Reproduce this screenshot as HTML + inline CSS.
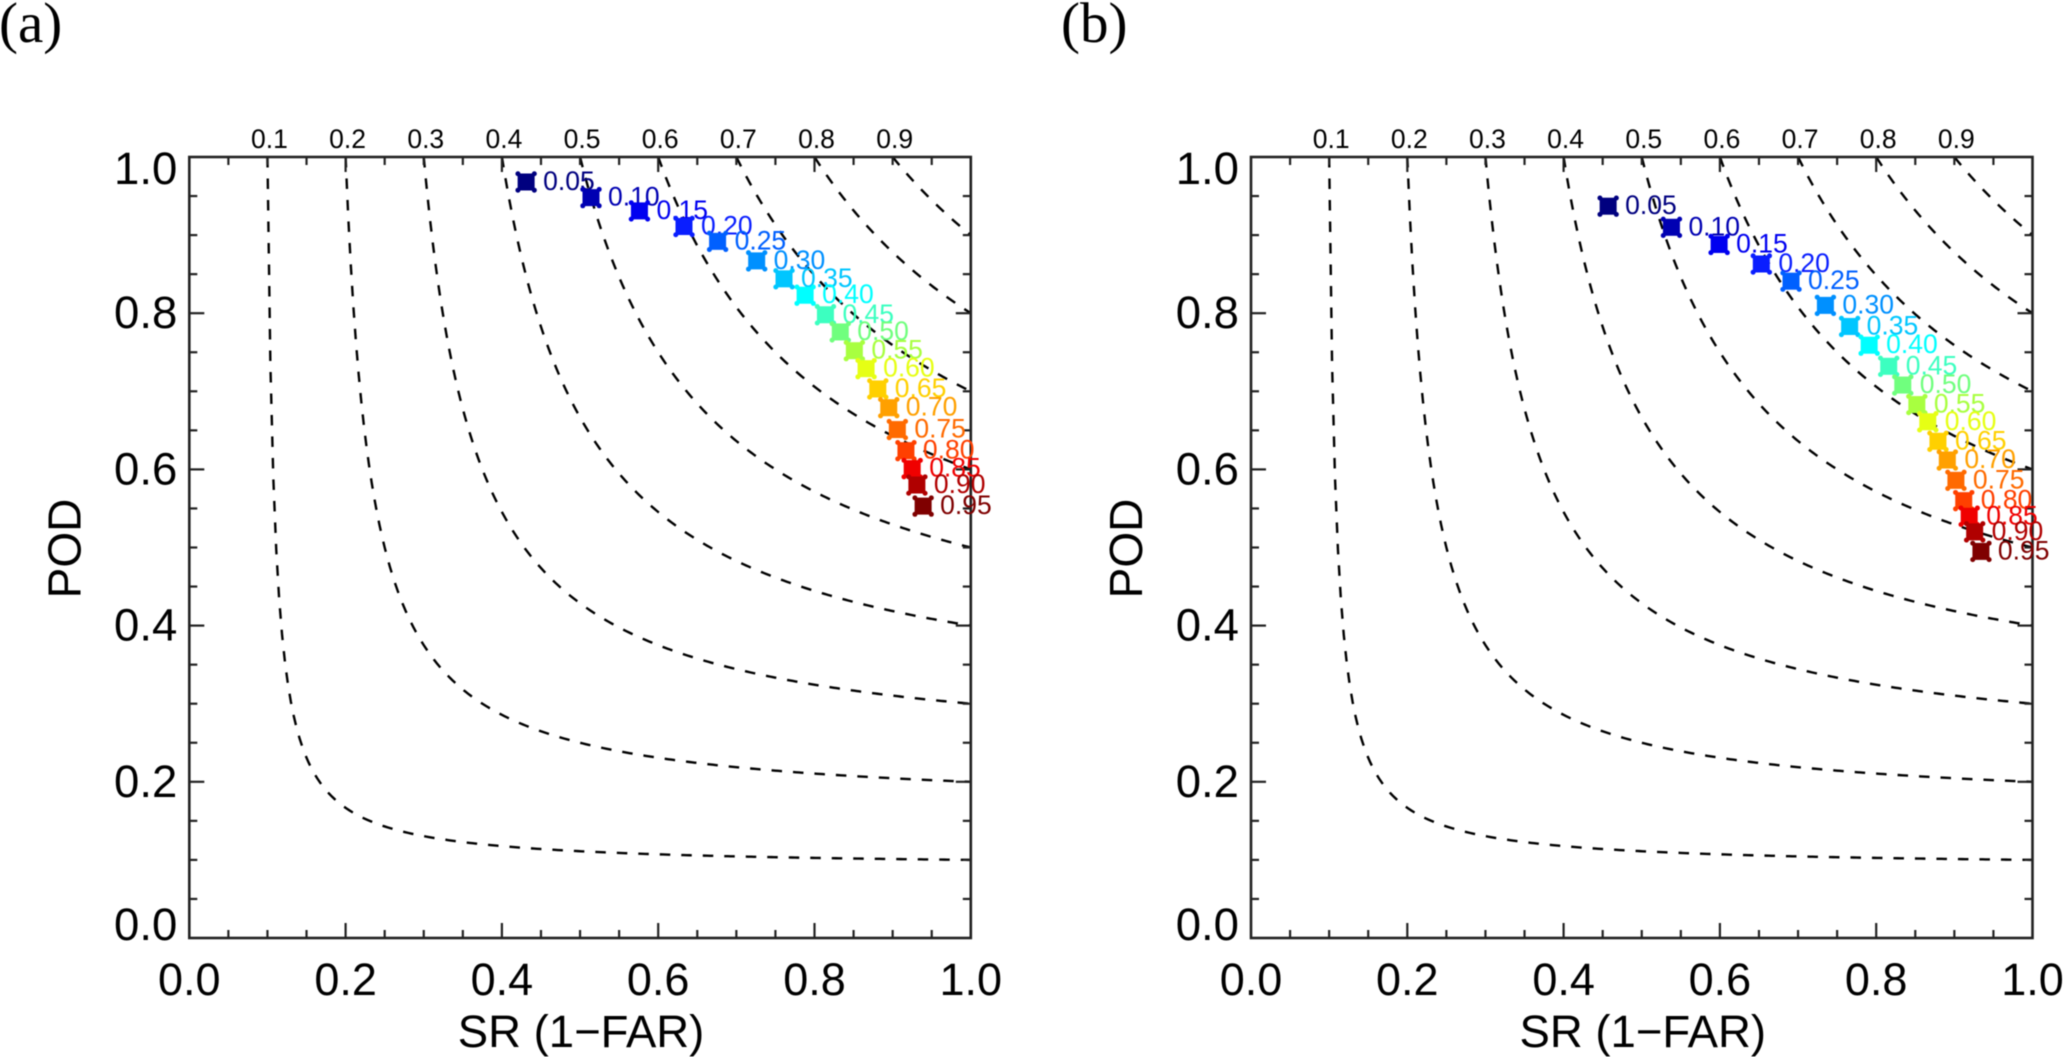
<!DOCTYPE html>
<html lang="en">
<head>
<meta charset="utf-8">
<title>Performance diagrams</title>
<style>
html,body{margin:0;padding:0;background:#fff;width:2067px;height:1057px;overflow:hidden}
svg{display:block;filter:blur(0.6px)}
text{font-family:"Liberation Sans",sans-serif;fill:#000}
.panel-letter{font-family:"Liberation Serif",serif;font-size:57px}
</style>
</head>
<body>
<svg id="chart" xmlns="http://www.w3.org/2000/svg" width="2067" height="1057" viewBox="0 0 2067 1057">
  <rect x="0" y="0" width="2067" height="1057" fill="#fff"/>
  <text class="panel-letter" x="-1" y="42">(a)</text>
  <text class="panel-letter" x="1061" y="42">(b)</text>
  <g id="panel-a"></g>
  <g id="panel-b"></g>
</svg>
<script>
const thresholds = ["0.05","0.10","0.15","0.20","0.25","0.30","0.35","0.40","0.45","0.50","0.55","0.60","0.65","0.70","0.75","0.80","0.85","0.90","0.95"];
const panelASR = [0.431,0.514,0.576,0.633,0.676,0.726,0.761,0.788,0.814,0.833,0.851,0.866,0.881,0.895,0.906,0.917,0.925,0.931,0.939];
const panelAPOD = [0.968,0.948,0.931,0.911,0.892,0.867,0.844,0.823,0.798,0.776,0.752,0.729,0.703,0.679,0.651,0.624,0.601,0.580,0.553];
const panelBSR = [0.457,0.538,0.599,0.653,0.691,0.735,0.766,0.791,0.816,0.834,0.852,0.866,0.879,0.891,0.902,0.912,0.919,0.926,0.934];
const panelBPOD = [0.937,0.910,0.888,0.863,0.841,0.810,0.783,0.759,0.732,0.708,0.683,0.661,0.636,0.612,0.586,0.560,0.540,0.520,0.495];
const csiLevels = [0.1,0.2,0.3,0.4,0.5,0.6,0.7,0.8,0.9];
const majorTicks = [0,0.2,0.4,0.6,0.8,1];
const minorTicks = [0.05,0.1,0.15,0.25,0.3,0.35,0.45,0.5,0.55,0.65,0.7,0.75,0.85,0.9,0.95];
const markerColors = ["#00007f","#0000b2","#0000f0","#0a1eff","#0060ff","#0090ff","#00c6ff","#00ffff","#3cffc0","#70ff7e","#a8ff40","#e6ff14","#ffd000","#ffa000","#ff6a00","#ff4000","#f00000","#b00000","#7f0000"];

const NS = "http://www.w3.org/2000/svg";
const plotTop = 157, plotBottom = 938, plotWidth = 781.5;

function make(parent, tag, attrs, text) {
  const el = document.createElementNS(NS, tag);
  for (const k in attrs) el.setAttribute(k, attrs[k]);
  if (text !== undefined) el.textContent = text;
  parent.appendChild(el);
  return el;
}

function drawPanel(root, id, plotLeft, srValues, podValues) {
  const xScale = v => plotLeft + v * plotWidth;
  const yScale = v => plotBottom - v * (plotBottom - plotTop);
  const plotRight = xScale(1);

  const clip = make(root, "clipPath", {id: id + "-clip"});
  make(clip, "rect", {x: plotLeft, y: plotTop, width: plotWidth, height: plotBottom - plotTop});

  // CSI isolines: each level defines POD as a function of SR
  csiLevels.forEach(level => {
    let d = "";
    for (let i = 0; i <= 240; i++) {
      const sr = level + (1 - level) * i / 240;
      const pod = 1 / (1 / level + 1 - 1 / sr);
      d += (i ? "L" : "M") + xScale(sr).toFixed(2) + " " + yScale(pod).toFixed(2);
    }
    const curve = make(root, "path", {d: d, fill: "none", stroke: "#000", "stroke-width": 2.4, "stroke-dasharray": "10.5 11", "clip-path": "url(#" + id + "-clip)"});
    
    

    const topLabel = make(root, "text", {x: xScale(level) + 2, y: plotTop - 9, "text-anchor": "middle", "font-size": 26.5}, level.toFixed(1));
    
    
  });

  // Tick marks on all four sides
  const tickSets = [[majorTicks, 15], [minorTicks, 8]];
  tickSets.forEach(set => {
    set[0].forEach(v => {
      if (v === 0 || v === 1) return;
      const x = xScale(v), y = yScale(v), len = set[1];
      const segs = [
        [x, plotBottom, x, plotBottom - len],
        [x, plotTop, x, plotTop + len],
        [plotLeft, y, plotLeft + len, y],
        [plotRight, y, plotRight - len, y]
      ];
      segs.forEach(s => {
        const tick = make(root, "line", {x1: s[0], y1: s[1], x2: s[2], y2: s[3], stroke: "#222", "stroke-width": 2.2});
        
        
      });
    });
  });

  const frame = make(root, "rect", {x: plotLeft, y: plotTop, width: plotWidth, height: plotBottom - plotTop, fill: "none", stroke: "#222", "stroke-width": 2.6});
  
  

  // Tick labels
  majorTicks.forEach(v => {
    const xLabel = make(root, "text", {x: xScale(v), y: 995, "text-anchor": "middle", "font-size": 45}, v.toFixed(1));
    
    

    const baseline = Math.min(Math.max(yScale(v) + 15, plotTop + 27), plotBottom + 2);
    const yLabel = make(root, "text", {x: plotLeft - 12, y: baseline, "text-anchor": "end", "font-size": 45.5}, v.toFixed(1));
    
    
  });

  // Axis titles
  const xTitle = make(root, "text", {x: xScale(0.5) + 1, y: 1047, "text-anchor": "middle", "font-size": 45.5}, "SR (1\u2212FAR)");
  
  

  const cy = yScale(0.5) + 1, cx = plotLeft - 109;
  const yTitle = make(root, "text", {x: cx, y: cy, "text-anchor": "middle", "font-size": 46, transform: "rotate(-90 " + cx + " " + cy + ")"}, "POD");
  
  

  // Threshold markers and labels
  thresholds.forEach((label, i) => {
    const x = xScale(srValues[i]), y = yScale(podValues[i]);
    const color = markerColors[i];
    const marker = make(root, "g", {});
    
    
    make(marker, "rect", {x: x - 8.5, y: y - 8.5, width: 17, height: 17, fill: color});
    [[-1, -1], [1, -1], [-1, 1], [1, 1]].forEach(c => {
      make(marker, "circle", {cx: x + c[0] * 8.2, cy: y + c[1] * 8.2, r: 2.5, fill: color});
    });

    const text = make(root, "text", {x: x + 17, y: y + 8, "font-size": 26.5, style: "fill:" + color}, label);
    
    
  });
}

drawPanel(document.getElementById("panel-a"), "panel-a", 189.3, panelASR, panelAPOD);
drawPanel(document.getElementById("panel-b"), "panel-b", 1251, panelBSR, panelBPOD);
</script>
</body>
</html>
